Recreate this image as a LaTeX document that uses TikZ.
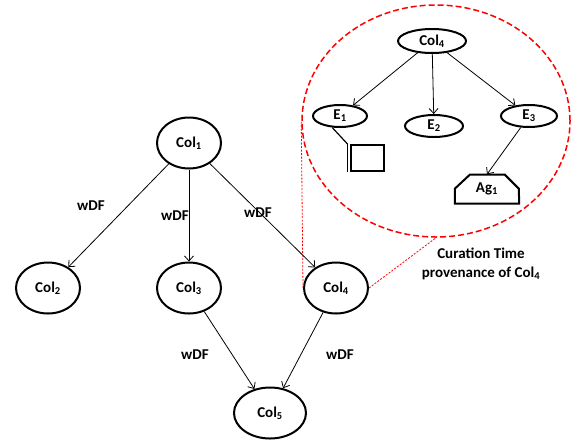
\documentclass[tikz,border=0pt]{standalone}
\usepackage{fontspec}
\setmainfont{Carlito}
\usetikzlibrary{shapes.geometric, arrows.meta, calc}

\tikzset{
  colnode/.style={draw, ellipse, line width=2pt, minimum width=64pt, minimum height=51pt, inner sep=0pt},
  entnode/.style={draw, ellipse, line width=2pt, minimum width=56pt, minimum height=22pt, inner sep=0pt},
  provnode/.style={draw=red, ellipse, line width=1.5pt, dash pattern=on 6pt off 3pt, minimum width=268pt, minimum height=232pt},
  zoomline/.style={red, line width=0.8pt, dash pattern=on 2pt off 1.5pt},
  flow/.style={->, line width=0.8pt},
}

\begin{document}
\begin{tikzpicture}[x=1pt, y=-1pt, >={Straight Barb[length=5pt, width=9pt]}, font=\fontsize{15}{19}\selectfont\bfseries]
    \useasboundingbox (0,0) rectangle (577,445);

    % 1. Vùng phóng to
    \node[provnode] (zoom) at (436,121) {};

    % 2. Các nút chính
    \node[colnode] (col1) at (189,143) {Col\textsubscript{1}};
    \node[colnode] (col2) at (48,288) {Col\textsubscript{2}};
    \node[colnode] (col3) at (189,288) {Col\textsubscript{3}};
    \node[colnode] (col4) at (336,288) {Col\textsubscript{4}};
    \node[colnode, minimum width=72pt] (col5) at (270,413) {Col\textsubscript{5}};

    \draw[flow] (col1) -- (col2);
    \draw[flow] (col1) -- (col3);
    \draw[flow] (col1) -- (col4);
    \draw[flow] (col3) -- (col5);
    \draw[flow] (col4) -- (col5);

    \node (w1) at (91,206) {wDF};
    \node (w2) at (175,216) {wDF};
    \node (w3) at (258,213) {wDF};
    \node (w4) at (195,355) {wDF};
    \node (w5) at (340,355) {wDF};

    % 3. Bên trong vùng phóng to
    \node[entnode, minimum width=68pt, minimum height=24pt] (pcol4) at (432,41) {Col\textsubscript{4}};
    \node[entnode, minimum width=54pt] (e1) at (340,116) {E\textsubscript{1}};
    \node[entnode, minimum width=58pt] (e2) at (434,126) {E\textsubscript{2}};
    \node[entnode] (e3) at (529,116) {E\textsubscript{3}};

    \draw[flow] (pcol4) -- (e1);
    \draw[flow] (pcol4) -- (e2);
    \draw[flow] (pcol4) -- (e3);

    \node[draw, line width=1.8pt, minimum width=33pt, minimum height=26pt, inner sep=0pt] (box) at (367.5,158) {};
    \coordinate (boxedge) at ($(box.north west)+(-2.5,0)$);
    \draw[line width=1.2pt] (e1.236) -- (boxedge);
    \draw[line width=1.2pt] (boxedge) -- ($(box.south west)+(-2.5,0)$);

    \node[minimum width=64pt, minimum height=29pt, inner sep=0pt] (ag1) at (487,189) {Ag\textsubscript{1}};
    \draw[line width=2pt] (ag1.south west) -- ++(0,-15) -- ++(15,-14) -- ++(35,0) -- ++(14,14) -- (ag1.south east) -- cycle;
    \draw[flow] (e3) -- (ag1.north);

    % 4. Đường nối tới vùng phóng to
    \draw[zoomline] (col4.west) -- (zoom.west);
    \draw[zoomline] (col4.east) -- (zoom.south);

    \node[align=center] (cap) at (481,264) {Curation Time\\provenance of Col\textsubscript{4}};
\end{tikzpicture}
\end{document}
